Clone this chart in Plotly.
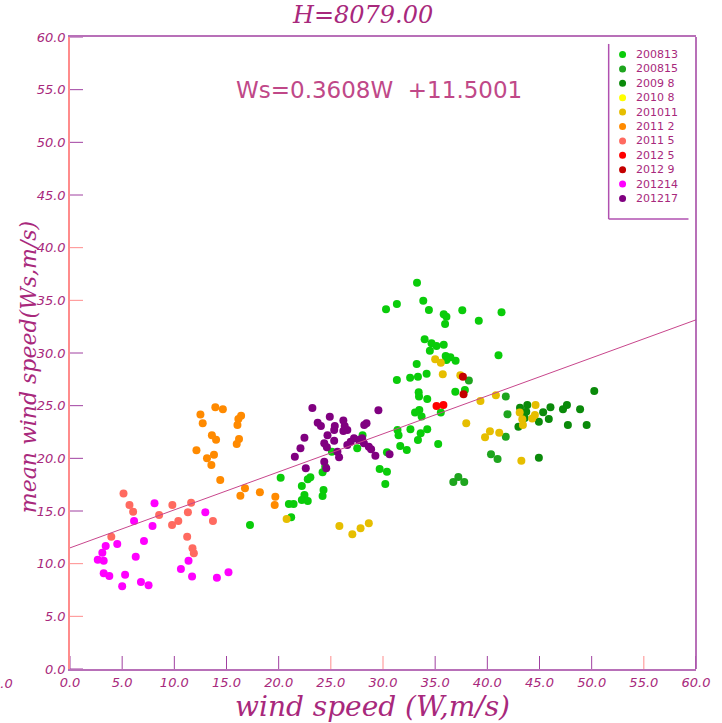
import plotly.graph_objects as go

# Series names (legend order) and marker colours
series_names = ["200813", "200815", "2009 8", "2010 8", "201011", "2011 2",
                "2011 5", "2012 5", "2012 9", "201214", "201217"]
series_colors = ["#0ACC0A", "#1EA51E", "#0A8A0A", "#FFFF00", "#E6BE00", "#FF8A00",
                 "#FF6A60", "#FF0000", "#C40000", "#FF00FF", "#800080"]

# Wind speed W (m/s) and mean wind speed Ws (m/s) per series
w_200813 = [17.25, 20.19, 22.79, 23.04, 22.22, 22.47, 22.47, 22.22, 22.79, 24.30, 24.21,
            20.98, 21.43, 21.20, 24.21, 24.46, 25.10, 27.53, 28.04, 29.68, 30.38, 30.22,
            30.38, 31.39, 31.49, 31.65, 32.28, 31.33,
            33.26, 30.29, 31.33, 33.86, 34.40, 35.82, 36.08, 35.95, 37.60, 39.18, 41.36,
            33.99, 34.65, 35.13, 35.82, 34.49, 36.01, 36.46, 36.08, 36.96, 41.07, 33.23,
            32.60, 33.35, 34.18, 33.42, 33.45, 34.24, 37.85, 36.93, 33.48, 33.07, 33.70,
            35.54, 32.63, 34.24, 33.61, 33.35, 35.29]
ws_200813 = [13.67, 18.16, 18.01, 18.20, 17.37, 16.52, 16.20, 16.04, 15.95, 16.99, 16.42,
             15.66, 15.66, 14.40, 18.67, 19.21, 20.63, 20.95, 22.18, 18.99, 18.73, 17.56,
             20.57, 22.69, 22.18, 21.17, 20.79, 27.44,
             36.68, 34.15, 34.65, 34.97, 34.08, 33.67, 33.45, 32.75, 34.05, 33.07, 33.87,
             31.30, 30.92, 30.67, 30.79, 30.22, 29.72, 29.59, 29.34, 29.27, 29.78, 28.96,
             27.66, 27.75, 28.04, 26.27, 25.86, 25.63, 26.49, 26.33, 24.59, 24.34, 23.96,
             24.34, 22.76, 22.76, 22.37, 21.74, 21.36]

w_200815 = [38.23, 41.77, 41.93, 41.77, 40.35, 40.98, 36.74, 37.22, 37.79]
ws_200815 = [27.38, 25.86, 24.18, 22.05, 20.38, 19.94, 17.75, 18.23, 17.75]

w_2009_8 = [44.94, 42.98, 43.13, 43.83, 43.73, 44.94, 45.35, 45.89, 46.05, 47.25, 47.63,
            48.89, 47.72, 49.52, 50.25, 43.58]
ws_2009_8 = [20.06, 23.01, 24.81, 25.06, 24.43, 23.48, 24.37, 23.74, 24.84, 24.65, 25.06,
             24.65, 23.17, 23.17, 26.39, 23.83]

w_2010_8 = []
ws_2010_8 = []

w_201011 = [20.76, 25.82, 27.06, 27.85, 28.64, 35.00, 35.54, 35.73, 37.41, 39.34, 40.82,
            37.98, 40.25, 41.14, 39.78, 43.26, 44.62, 43.10, 43.35, 43.41, 44.30, 44.56]
ws_201011 = [14.24, 13.58, 12.79, 13.36, 13.83, 29.40, 29.08, 27.98, 27.88, 25.44, 25.98,
             23.33, 22.57, 22.44, 22.00, 19.78, 25.06, 24.34, 23.71, 23.17, 23.77, 24.12]

w_2011_2 = [13.93, 14.65, 12.50, 16.40, 16.14, 12.72, 16.05, 13.60, 14.00, 16.20, 15.98,
            12.12, 13.80, 13.13, 13.55, 14.40, 16.77, 16.33, 18.20, 19.68, 19.62]
ws_2011_2 = [24.85, 24.65, 24.15, 24.05, 23.73, 23.32, 23.17, 22.20, 21.77, 21.84, 21.36,
             20.76, 20.35, 20.00, 19.37, 17.94, 17.15, 16.45, 16.77, 16.36, 15.57]

w_2011_5 = [5.13, 5.70, 6.05, 9.81, 11.61, 11.30, 8.54, 10.38, 9.78, 13.70, 3.96, 11.23,
            11.74, 11.87]
ws_2011_5 = [16.65, 15.57, 14.94, 15.57, 15.79, 14.87, 14.62, 14.05, 13.67, 14.05, 12.56,
             12.56, 11.46, 10.98]

w_2012_5 = [35.13, 35.79]
ws_2012_5 = [24.97, 25.06]

w_2012_9 = [37.66, 37.72]
ws_2012_9 = [27.75, 26.08]

w_201214 = [8.10, 6.14, 12.97, 7.91, 7.09, 4.53, 3.42, 3.10, 2.66, 3.23, 6.30, 11.36,
            10.63, 3.23, 3.77, 5.28, 11.70, 15.19, 14.08, 5.00, 6.80, 7.53]
ws_201214 = [15.73, 14.05, 14.87, 13.58, 12.15, 11.87, 11.68, 11.04, 10.38, 10.28, 10.66,
             10.28, 9.49, 9.08, 8.83, 8.95, 8.77, 9.18, 8.67, 7.85, 8.26, 7.94]

w_201217 = [23.23, 24.90, 29.56, 23.74, 24.05, 25.38, 26.20, 26.33, 25.32, 26.20, 26.58,
            28.42, 28.20, 22.47, 24.68, 24.37, 25.32, 24.62, 22.09, 27.22, 26.90, 27.69,
            28.00, 28.17, 26.58, 28.64, 28.86, 25.63, 25.79, 29.27, 30.63, 21.55, 24.37,
            24.56, 22.60]
ws_201217 = [24.78, 23.95, 24.56, 23.39, 23.07, 23.07, 23.58, 23.07, 22.69, 22.60, 22.69,
             23.33, 23.17, 21.96, 22.20, 21.43, 21.68, 21.05, 20.95, 21.90, 21.58, 21.74,
             21.90, 21.43, 21.27, 21.11, 20.86, 20.63, 20.10, 20.25, 20.38, 20.16, 19.68,
             19.05, 19.05]

series_w = [w_200813, w_200815, w_2009_8, w_2010_8, w_201011, w_2011_2,
            w_2011_5, w_2012_5, w_2012_9, w_201214, w_201217]
series_ws = [ws_200813, ws_200815, ws_2009_8, ws_2010_8, ws_201011, ws_2011_2,
             ws_2011_5, ws_2012_5, ws_2012_9, ws_201214, ws_201217]

# Regression line Ws = a*W + b
fit_slope = 0.3608
fit_intercept = 11.5001
fit_w = [0.0, 60.0]

tick_values = [0, 5, 10, 15, 20, 25, 30, 35, 40, 45, 50, 55, 60]
tick_labels = ["%.1f" % v for v in tick_values]

height_label = "H=8079.00"

TEXT = "#A8287C"
PURPLE = "#A040A0"
SALMON = "#FF8C8C"

# colour of each tick mark (pen alternates between purple and salmon)
x_tick_colors = [PURPLE, PURPLE, PURPLE, PURPLE, PURPLE, SALMON, SALMON,
                 PURPLE, PURPLE, PURPLE, PURPLE, SALMON, PURPLE]
y_tick_colors = [PURPLE, SALMON, SALMON, PURPLE, PURPLE, PURPLE, PURPLE,
                 SALMON, SALMON, PURPLE, PURPLE, PURPLE, PURPLE]

fig = go.Figure()

for name, color, xs, ys in zip(series_names, series_colors, series_w, series_ws):
    fig.add_trace(go.Scatter(
        x=xs, y=ys, mode="markers", name=name, showlegend=False,
        marker=dict(color=color, size=8, line=dict(width=0)),
    ))

fig.add_trace(go.Scatter(
    x=fit_w, y=[fit_slope * w + fit_intercept for w in fit_w],
    mode="lines", line=dict(color="#C8468C", width=1), showlegend=False,
))

axis_common = dict(
    range=[0, 60], tickvals=tick_values, ticktext=tick_labels,
    ticks="", showgrid=False, zeroline=False,
    tickfont=dict(family="DejaVu Sans", size=13, color=TEXT, style="italic"),
)

shapes = [
    # right edge of the frame
    dict(type="line", xref="paper", yref="paper", x0=1, x1=1, y0=0, y1=1,
         line=dict(color=PURPLE, width=1.5)),
]

# inward tick marks, one pen colour each
for v, c in zip(tick_values, x_tick_colors):
    shapes.append(dict(type="line", xref="x", yref="paper", ysizemode="pixel", yanchor=0,
                       x0=v, x1=v, y0=0, y1=13, line=dict(color=c, width=1)))
for v, c in zip(tick_values, y_tick_colors):
    shapes.append(dict(type="line", yref="y", xref="paper", xsizemode="pixel", xanchor=0,
                       y0=v, y1=v, x0=0, x1=13, line=dict(color=c, width=1)))

# legend box (left and bottom edges; top/right are the plot frame)
LEG_X = 0.8605          # left edge in paper units
LEG_BOTTOM = 0.7120
shapes.append(dict(type="line", xref="paper", yref="paper", x0=LEG_X, x1=LEG_X,
                   y0=LEG_BOTTOM, y1=0.989, line=dict(color="#B050B0", width=1.5)))
shapes.append(dict(type="line", xref="paper", yref="paper", x0=LEG_X, x1=0.988,
                   y0=LEG_BOTTOM, y1=LEG_BOTTOM, line=dict(color="#B050B0", width=1.5)))

annotations = [
    dict(text=height_label, xref="paper", yref="paper", x=0.4675, y=1.0348,
         xanchor="center", yanchor="middle", showarrow=False,
         font=dict(family="DejaVu Serif", size=24, color=TEXT, style="italic")),
    dict(text="Ws=%.4fW  +%.4f" % (fit_slope, fit_intercept), xref="paper", yref="paper",
         x=0.4929, y=0.916, xanchor="center", yanchor="middle", showarrow=False,
         font=dict(family="DejaVu Sans", size=23, color="#C04888")),
    dict(text="wind speed (W,m/s)", xref="paper", yref="paper", x=0.4834, y=-0.0601,
         xanchor="center", yanchor="middle", showarrow=False,
         font=dict(family="DejaVu Serif", size=28, color=TEXT, style="italic")),
    dict(text="mean wind speed(Ws,m/s)", xref="paper", yref="paper", x=-0.065, y=0.478,
         xanchor="center", yanchor="middle", showarrow=False, textangle=-90,
         font=dict(family="DejaVu Serif", size=22, color=TEXT, style="italic")),
    dict(text="0.0", xref="paper", yref="paper", x=-0.1078, y=-0.0237,
         xanchor="center", yanchor="middle", showarrow=False,
         font=dict(family="DejaVu Sans", size=13, color=TEXT, style="italic")),
]

# legend rows: coloured dot + series name
ROW_TOP = 0.9723        # first row centre (paper y)
ROW_STEP = 0.02278      # row spacing (paper y)
DOT_X = 0.8827
TEXT_X = 0.9018
for i, (name, color) in enumerate(zip(series_names, series_colors)):
    yc = ROW_TOP - i * ROW_STEP
    shapes.append(dict(type="circle", xref="paper", yref="paper",
                       xsizemode="pixel", ysizemode="pixel", xanchor=DOT_X, yanchor=yc,
                       x0=-3.5, x1=3.5, y0=-3.5, y1=3.5,
                       fillcolor=color, line=dict(width=0)))
    annotations.append(dict(text=name, xref="paper", yref="paper", x=TEXT_X, y=yc,
                            xanchor="left", yanchor="middle", showarrow=False, borderpad=0,
                            font=dict(family="DejaVu Sans", size=11, color=TEXT)))

fig.update_layout(
    width=722, height=723,
    margin=dict(l=70, r=21, t=37, b=54),
    paper_bgcolor="white", plot_bgcolor="white",
    xaxis=dict(**axis_common, showline=True, linecolor="#B870B8", linewidth=2, mirror=True),
    yaxis=dict(**axis_common, showline=True, linecolor=SALMON, linewidth=1.5),
    showlegend=False,
    shapes=shapes,
    annotations=annotations,
)

fig.write_html("out.html")
